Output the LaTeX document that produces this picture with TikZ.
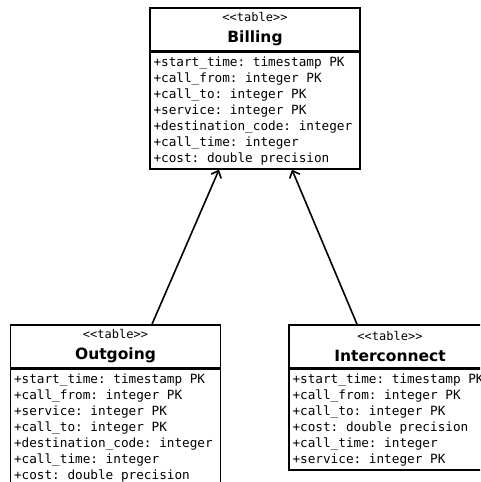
\documentclass[tikz,border=0pt]{standalone}
\usepackage{fontspec}
\setmainfont{DejaVu Sans}
\setmonofont{DejaVu Sans Mono}
\usepackage{tikz}
\usetikzlibrary{arrows.meta}
\usetikzlibrary{positioning}

\newcommand{\tablehead}[1]{{\ttfamily <<table>>}\\{\bfseries\fontsize{15.5}{21}\selectfont #1}}
\newcommand{\fieldfont}{\ttfamily\fontsize{12.7}{16}\selectfont}
\newcommand{\fixspace}{\frenchspacing\spaceskip=0.602em\relax\xspaceskip=0.602em\relax}

\begin{document}
\begin{tikzpicture}[x=1pt,y=-1pt,line width=1.6pt,
        head/.style={draw,minimum width=210pt,minimum height=43pt,inner sep=0pt,align=center,font=\fontsize{12}{21}\selectfont},
        fields/.style={draw,text width=203pt,inner xsep=3.5pt,inner ysep=4pt,align=left,font=\fieldfont,execute at begin node=\fixspace},
        inherit/.style={-{Straight Barb[length=6pt,width=11pt]}}]
        \useasboundingbox (0,0) rectangle (480,482);
        \clip (0,0) rectangle (480,482);

        \node[head] (billHead) at (255,29.5) {\tablehead{Billing}};
        \node[fields,below=0pt of billHead] (billBody) {+start\_time: timestamp PK\\+call\_from: integer PK\\+call\_to: integer PK\\+service: integer PK\\+destination\_code: integer\\+call\_time: integer\\+cost: double precision};

        \node[head] (outHead) at (115.5,346.5) {\tablehead{Outgoing}};
        \node[fields,below=0pt of outHead] (outBody) {+start\_time: timestamp PK\\+call\_from: integer PK\\+service: integer PK\\+call\_to: integer PK\\+destination\_code: integer\\+call\_time: integer\\+cost: double precision};

        \node[head,minimum width=202pt] (icHead) at (390,346.5) {\tablehead{Interconnect}};
        \node[fields,text width=195pt,below=0pt of icHead] (icBody) {+start\_time: timestamp PK\\+call\_from: integer PK\\+call\_to: integer PK\\+cost: double precision\\+call\_time: integer\\+service: integer PK};

        \draw[inherit] ([xshift=36.5pt]outHead.north) -- ([xshift=-36pt]billBody.south);
        \draw[inherit] ([xshift=-33pt]icHead.north) -- ([xshift=37pt]billBody.south);
    \end{tikzpicture}
\end{document}
